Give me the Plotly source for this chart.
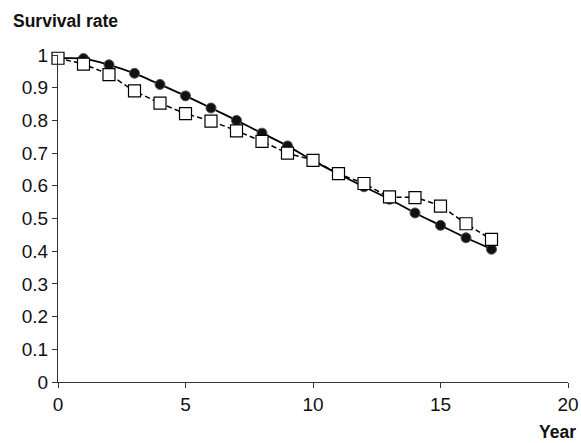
import plotly.graph_objects as go

years = list(range(0, 18))
circle_vals = [0.99, 0.989, 0.970, 0.944, 0.910, 0.875, 0.838, 0.800, 0.761, 0.722,
               0.677, 0.636, 0.597, 0.559, 0.517, 0.479, 0.441, 0.406]
square_vals = [0.99, 0.972, 0.940, 0.890, 0.853, 0.821, 0.798, 0.768, 0.736, 0.700,
               0.678, 0.637, 0.607, 0.566, 0.564, 0.538, 0.484, 0.436]
x_ticks = [0, 5, 10, 15, 20]
y_ticks = [0, 0.1, 0.2, 0.3, 0.4, 0.5, 0.6, 0.7, 0.8, 0.9, 1]
y_tick_text = ["0", "0.1", "0.2", "0.3", "0.4", "0.5", "0.6", "0.7", "0.8", "0.9", "1"]

W, H = 581, 443
L, R, T, B = 58, 13, 55, 61
PW, PH = W - L - R, H - T - B

fig = go.Figure()
fig.add_trace(go.Scatter(
    x=years, y=circle_vals, mode="lines+markers",
    line=dict(color="black", width=1.8, shape="spline", smoothing=0.6),
    marker=dict(symbol="circle", size=10, color="#111111",
                line=dict(color="#555555", width=1)),
    cliponaxis=False, showlegend=False))
fig.add_trace(go.Scatter(
    x=years, y=square_vals, mode="lines+markers",
    line=dict(color="black", width=1.5, dash="5px,3px", shape="spline", smoothing=0.4),
    marker=dict(symbol="square", size=12, color="white",
                line=dict(color="black", width=1.2)),
    cliponaxis=False, showlegend=False))

fam = "Liberation Sans, Arial, sans-serif"
tfont = dict(family=fam, size=19, color="#111")
bfont = dict(family=fam, size=17.5, color="#111")
fig.update_layout(
    width=W, height=H,
    margin=dict(l=L, r=R, t=T, b=B),
    paper_bgcolor="white", plot_bgcolor="white",
    font=tfont,
    xaxis=dict(range=[0, 20], tickvals=x_ticks, ticks="outside", ticklen=5,
               tickcolor="#333", showline=True, linecolor="#333", linewidth=1.2,
               showgrid=False, zeroline=False, tickfont=tfont,
               ticklabeloverflow="allow", automargin=False),
    yaxis=dict(range=[0, 1], tickvals=y_ticks, ticktext=y_tick_text, ticks="outside",
               ticklen=5, tickcolor="#333", showline=True, linecolor="#333",
               linewidth=1.2, showgrid=False, zeroline=False, tickfont=tfont,
               automargin=False),
    annotations=[
        dict(text="<b>Survival rate</b>", xref="paper", yref="paper",
             x=(11 - L) / PW, y=1 + (T - 21) / PH,
             xanchor="left", yanchor="middle", showarrow=False, font=bfont),
        dict(text="<b>Year</b>", xref="paper", yref="paper",
             x=(578 - L) / PW, y=-50 / PH,
             xanchor="right", yanchor="middle", showarrow=False, font=bfont),
    ],
)
fig.write_html("out.html", config={"displayModeBar": False},
               post_script="document.body.style.margin='0';document.body.style.overflow='hidden';")
